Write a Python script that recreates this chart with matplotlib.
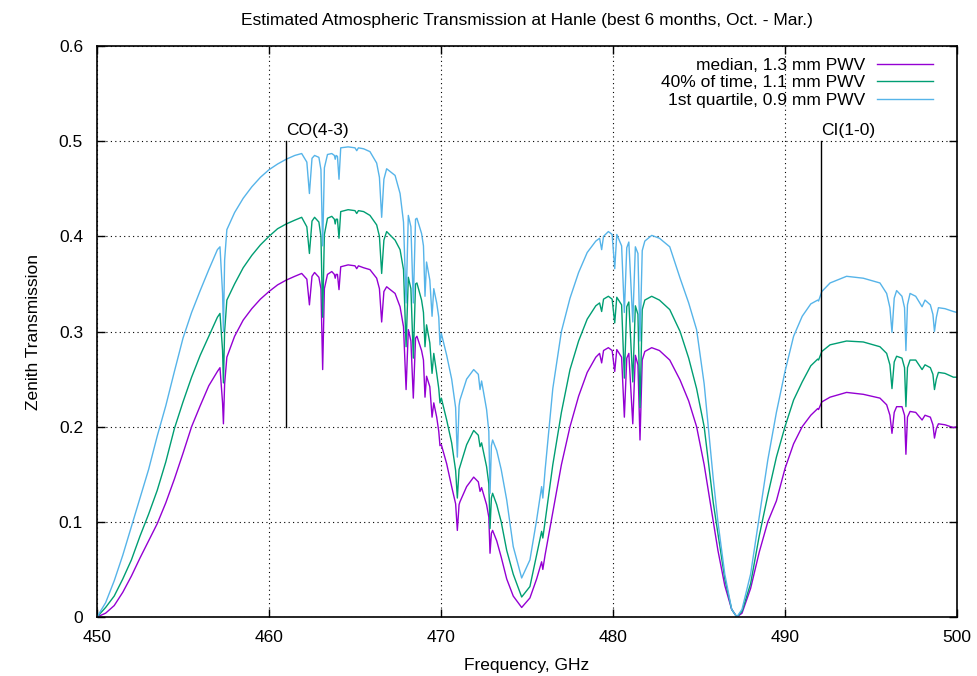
import matplotlib
matplotlib.use("Agg")
import matplotlib.pyplot as plt

plt.rcParams['font.family'] = ['Liberation Sans', 'DejaVu Sans']

freq = [
    450.0, 450.5, 451.0, 451.5, 452.0, 452.5, 453.0, 453.5, 454.0, 454.5,
    455.0, 455.5, 456.0, 456.5, 457.0, 457.15, 457.3, 457.35, 457.42, 457.55,
    458.0, 458.5, 459.0, 459.5, 460.0, 460.5, 461.0, 461.5, 461.9, 462.2,
    462.35, 462.5, 462.65, 462.9, 463.02, 463.12, 463.22, 463.4, 463.65, 463.8,
    463.85, 463.9, 463.98, 464.07, 464.17, 464.6, 465.0, 465.1, 465.2, 465.5,
    465.87, 466.26, 466.42, 466.55, 466.68, 466.84, 467.33, 467.62, 467.82, 467.97,
    468.1, 468.25, 468.39, 468.52, 468.6, 468.87, 468.98, 469.07, 469.16, 469.35,
    469.48, 469.58, 469.75, 469.87, 469.94, 470.02, 470.33, 470.62, 470.85, 470.95,
    471.05, 471.1, 471.49, 471.9, 472.17, 472.27, 472.36, 472.65, 472.78, 472.85,
    472.93, 473.0, 473.24, 473.5, 473.82, 474.2, 474.69, 475.17, 475.56, 475.85,
    475.92, 476.05, 476.5, 477.0, 477.5, 478.0, 478.5, 479.0, 479.22, 479.34,
    479.45, 479.73, 479.95, 480.1, 480.22, 480.5, 480.66, 480.8, 480.92, 481.15,
    481.3, 481.45, 481.57, 481.7, 481.85, 482.25, 482.7, 483.3, 483.9, 484.4,
    484.86, 485.3, 485.83, 486.1, 486.5, 486.9, 487.2, 487.5, 488.0, 488.5,
    489.0, 489.5, 490.0, 490.5, 491.0, 491.5, 491.9, 491.95, 492.14, 492.62,
    493.58, 494.55, 495.52, 495.91, 496.1, 496.22, 496.35, 496.49, 496.8, 496.95,
    497.03, 497.12, 497.27, 497.6, 497.97, 498.14, 498.45, 498.6, 498.69, 498.8,
    498.92, 499.3, 499.79, 500.0,
]

median_13mm = [
    0.000, 0.004, 0.012, 0.026, 0.043, 0.062, 0.080, 0.098, 0.120, 0.145,
    0.172, 0.200, 0.222, 0.243, 0.258, 0.262, 0.225, 0.203, 0.245, 0.273,
    0.295, 0.312, 0.324, 0.334, 0.342, 0.349, 0.354, 0.358, 0.361, 0.355,
    0.328, 0.358, 0.362, 0.357, 0.345, 0.260, 0.345, 0.360, 0.363, 0.360,
    0.356, 0.360, 0.360, 0.344, 0.368, 0.370, 0.369, 0.366, 0.369, 0.367,
    0.365, 0.356, 0.345, 0.310, 0.342, 0.347, 0.340, 0.326, 0.305, 0.239,
    0.302, 0.290, 0.230, 0.293, 0.295, 0.280, 0.270, 0.231, 0.253, 0.242,
    0.210, 0.225, 0.210, 0.195, 0.180, 0.181, 0.161, 0.137, 0.119, 0.091,
    0.118, 0.121, 0.137, 0.147, 0.142, 0.132, 0.136, 0.118, 0.105, 0.067,
    0.088, 0.091, 0.080, 0.063, 0.040, 0.022, 0.010, 0.020, 0.040, 0.058,
    0.050, 0.065, 0.110, 0.160, 0.200, 0.232, 0.257, 0.273, 0.277, 0.267,
    0.280, 0.283, 0.280, 0.258, 0.281, 0.273, 0.210, 0.272, 0.277, 0.203,
    0.275, 0.265, 0.186, 0.270, 0.279, 0.283, 0.280, 0.270, 0.249, 0.227,
    0.200, 0.160, 0.100, 0.070, 0.033, 0.008, 0.000, 0.004, 0.030, 0.068,
    0.100, 0.122, 0.156, 0.182, 0.200, 0.212, 0.219, 0.218, 0.226, 0.231,
    0.236, 0.234, 0.230, 0.223, 0.212, 0.193, 0.215, 0.221, 0.221, 0.212,
    0.171, 0.210, 0.216, 0.215, 0.207, 0.212, 0.210, 0.202, 0.188, 0.198,
    0.203, 0.202, 0.199, 0.200,
]

pct40_11mm = [
    0.000, 0.010, 0.022, 0.040, 0.060, 0.085, 0.108, 0.133, 0.163, 0.198,
    0.226, 0.252, 0.275, 0.295, 0.315, 0.319, 0.280, 0.246, 0.300, 0.333,
    0.350, 0.367, 0.380, 0.391, 0.400, 0.408, 0.413, 0.417, 0.420, 0.410,
    0.382, 0.416, 0.420, 0.415, 0.400, 0.315, 0.402, 0.419, 0.421, 0.418,
    0.413, 0.418, 0.418, 0.398, 0.426, 0.428, 0.427, 0.424, 0.427, 0.426,
    0.422, 0.412, 0.400, 0.361, 0.396, 0.405, 0.396, 0.386, 0.365, 0.284,
    0.357, 0.345, 0.272, 0.350, 0.351, 0.333, 0.320, 0.284, 0.307, 0.288,
    0.256, 0.277, 0.256, 0.240, 0.225, 0.230, 0.207, 0.183, 0.154, 0.125,
    0.155, 0.158, 0.181, 0.196, 0.191, 0.179, 0.183, 0.158, 0.140, 0.093,
    0.125, 0.130, 0.118, 0.100, 0.070, 0.045, 0.021, 0.032, 0.065, 0.090,
    0.083, 0.100, 0.160, 0.215, 0.260, 0.290, 0.313, 0.327, 0.330, 0.321,
    0.334, 0.337, 0.334, 0.309, 0.336, 0.328, 0.251, 0.326, 0.331, 0.247,
    0.327, 0.318, 0.220, 0.323, 0.333, 0.337, 0.333, 0.323, 0.300, 0.272,
    0.240, 0.200, 0.120, 0.088, 0.040, 0.008, 0.000, 0.006, 0.035, 0.085,
    0.128, 0.168, 0.200, 0.228, 0.247, 0.264, 0.271, 0.270, 0.279, 0.286,
    0.290, 0.289, 0.284, 0.277, 0.265, 0.240, 0.268, 0.274, 0.272, 0.262,
    0.221, 0.262, 0.270, 0.270, 0.260, 0.265, 0.262, 0.255, 0.239, 0.250,
    0.257, 0.256, 0.252, 0.252,
]

quart_09mm = [
    0.000, 0.015, 0.038, 0.065, 0.095, 0.125, 0.155, 0.190, 0.222, 0.258,
    0.293, 0.320, 0.343, 0.365, 0.386, 0.389, 0.340, 0.300, 0.375, 0.407,
    0.425, 0.440, 0.452, 0.462, 0.470, 0.476, 0.481, 0.485, 0.487, 0.478,
    0.445, 0.482, 0.485, 0.483, 0.470, 0.390, 0.472, 0.486, 0.487, 0.485,
    0.481, 0.485, 0.484, 0.460, 0.493, 0.494, 0.493, 0.490, 0.493, 0.492,
    0.489, 0.477, 0.462, 0.420, 0.460, 0.471, 0.464, 0.445, 0.415, 0.330,
    0.422, 0.410, 0.330, 0.418, 0.419, 0.403, 0.390, 0.337, 0.373, 0.354,
    0.316, 0.345, 0.330, 0.315, 0.286, 0.298, 0.275, 0.250, 0.220, 0.168,
    0.222, 0.228, 0.250, 0.260, 0.255, 0.239, 0.248, 0.218, 0.195, 0.130,
    0.180, 0.186, 0.175, 0.155, 0.123, 0.074, 0.041, 0.060, 0.102, 0.137,
    0.125, 0.154, 0.240, 0.300, 0.335, 0.362, 0.383, 0.395, 0.398, 0.386,
    0.400, 0.405, 0.402, 0.366, 0.402, 0.390, 0.320, 0.388, 0.394, 0.310,
    0.389, 0.382, 0.290, 0.385, 0.395, 0.401, 0.398, 0.389, 0.356, 0.330,
    0.302, 0.245, 0.145, 0.100, 0.045, 0.008, 0.000, 0.008, 0.045, 0.105,
    0.165, 0.215, 0.258, 0.295, 0.316, 0.329, 0.333, 0.332, 0.342, 0.351,
    0.358, 0.356, 0.351, 0.340, 0.325, 0.299, 0.335, 0.343, 0.337, 0.325,
    0.280, 0.328, 0.340, 0.337, 0.326, 0.333, 0.328, 0.318, 0.300, 0.315,
    0.325, 0.324, 0.321, 0.320,
]

series_labels = ["median, 1.3 mm PWV", "40% of time, 1.1 mm PWV", "1st quartile, 0.9 mm PWV"]
series_colors = ["#9400D3", "#009E73", "#56B4E9"]

line_names = ["CO(4-3)", "CI(1-0)"]
line_freqs = [461.0, 492.1]
line_range = [0.2, 0.5]

x_ticks = [450, 460, 470, 480, 490, 500]
y_ticks = [0, 0.1, 0.2, 0.3, 0.4, 0.5, 0.6]
y_ticklabels = ["0", "0.1", "0.2", "0.3", "0.4", "0.5", "0.6"]

fig = plt.figure(figsize=(9.77, 6.76), dpi=100)
ax = fig.add_axes([97/977, 1-617/676, (957-97)/977, (617-46)/676])

for vals, lab, col in zip([median_13mm, pct40_11mm, quart_09mm], series_labels, series_colors):
    ax.plot(freq, vals, color=col, lw=1.0, label=lab)

for name, f in zip(line_names, line_freqs):
    ax.plot([f, f], line_range, color='black', lw=1.0)
    ax.text(f, line_range[1] + 0.003, name, ha='left', va='bottom', fontsize=12.5)

ax.set_xlim(450, 500)
ax.set_ylim(0, 0.6)
ax.set_xticks(x_ticks)
ax.set_yticks(y_ticks)
ax.set_yticklabels(y_ticklabels)
ax.grid(True, color='black', linestyle=(0, (1, 3)), linewidth=0.8)
ax.tick_params(direction='in', top=True, right=True, length=6, labelsize=12.5, width=1)
ax.tick_params(axis='x', pad=9)
ax.tick_params(axis='y', pad=10)
for s in ax.spines.values():
    s.set_linewidth(1.2)

ax.set_title("Estimated Atmospheric Transmission at Hanle (best 6 months, Oct. - Mar.)",
             fontsize=12.5, pad=15)
ax.set_xlabel("Frequency, GHz", fontsize=12.5, labelpad=10)
ax.set_ylabel("Zenith Transmission", fontsize=12.5, labelpad=13)

leg = ax.legend(loc='upper right', frameon=False, markerfirst=False, fontsize=12.5,
                handlelength=3.2, handletextpad=0.7, labelspacing=0.12,
                borderaxespad=0.0, borderpad=0.0, alignment='right',
                bbox_to_anchor=(933/977, 1 - 58/676), bbox_transform=fig.transFigure)
for t in leg.get_texts():
    t.set_ha('right')

fig.savefig("out.png", dpi=100)
